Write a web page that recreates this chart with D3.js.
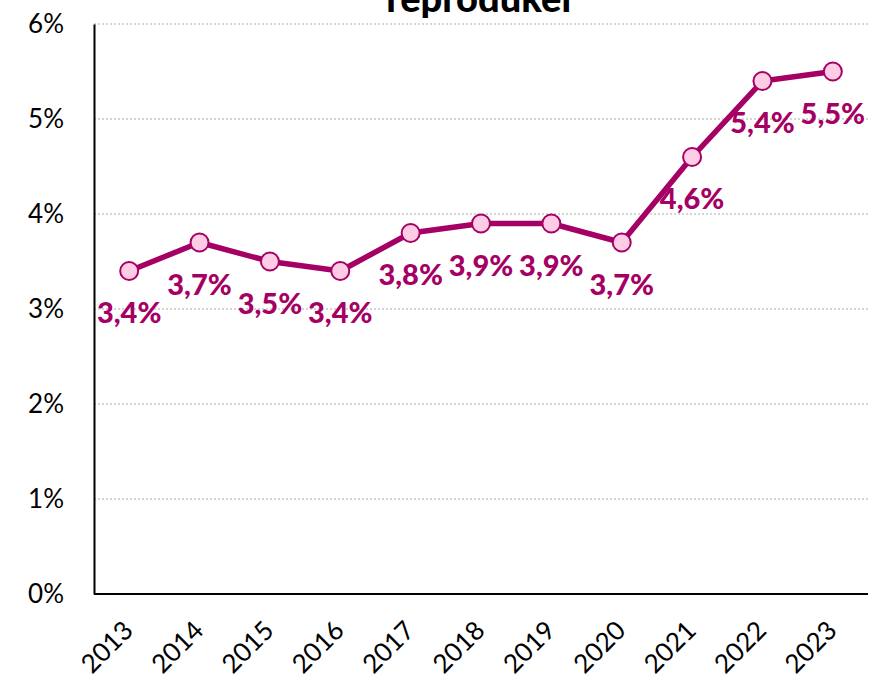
<!DOCTYPE html>
<html>
<head>
<meta charset="utf-8">
<script src="https://cdn.jsdelivr.net/npm/d3@7"></script>
<style>
  body { margin: 0; background: #fff; }
  svg { display: block; font-family: Lato, "Open Sans", sans-serif; }
</style>
</head>
<body>
<div id="chart"></div>
<script>
var years = ["2013", "2014", "2015", "2016", "2017", "2018", "2019", "2020", "2021", "2022", "2023"];
var shares = [3.4, 3.7, 3.5, 3.4, 3.8, 3.9, 3.9, 3.7, 4.6, 5.4, 5.5];
var yTicks = [0, 1, 2, 3, 4, 5, 6];
var title = "reproduker";

var width = 872;
var height = 680;
var margin = { top: 24, right: 4, bottom: 86, left: 94 };
var lineColor = "#a50064";
var dotFill = "#ffcce6";

var svg = d3.select("#chart")
    .append("svg")
    .attr("width", width)
    .attr("height", height);

var x = d3.scalePoint()
    .domain(years)
    .range([margin.left, width - margin.right])
    .padding(0.5);

var y = d3.scaleLinear()
    .domain([0, 6])
    .range([height - margin.bottom, margin.top]);

// gridlines
svg.append("g")
    .selectAll("line")
    .data(yTicks.filter(d => d > 0))
    .enter().append("line")
    .attr("x1", margin.left)
    .attr("x2", width - margin.right)
    .attr("y1", d => y(d))
    .attr("y2", d => y(d))
    .attr("stroke", "#c8c8c8")
    .attr("stroke-width", 1.5)
    .attr("stroke-dasharray", "2,2");

// y axis
var yAxis = svg.append("g")
    .attr("transform", "translate(" + margin.left + ",0)")
    .call(d3.axisLeft(y).tickValues(yTicks).tickSize(0).tickPadding(30)
        .tickFormat(d => d + "%"));
yAxis.select(".domain").attr("stroke", "#000").attr("stroke-width", 2);
yAxis.selectAll("text")
    .attr("font-size", 26)
    .attr("fill", "#000")
    .attr("font-family", "Lato, sans-serif");

// x axis
var xAxis = svg.append("g")
    .attr("transform", "translate(0," + y(0) + ")")
    .call(d3.axisBottom(x).tickSize(0).tickPadding(0));
xAxis.select(".domain")
    .attr("d", "M" + margin.left + ",0H" + (width - margin.right))
    .attr("stroke", "#000").attr("stroke-width", 2);
xAxis.selectAll("text")
    .attr("font-size", 26)
    .attr("fill", "#000")
    .attr("font-family", "Lato, sans-serif")
    .attr("text-anchor", "end")
    .attr("dy", null)
    .attr("transform", "translate(5,38) rotate(-45)");

// line
var line = d3.line()
    .x((d, i) => x(years[i]))
    .y(d => y(d));

svg.append("path")
    .datum(shares)
    .attr("d", line)
    .attr("fill", "none")
    .attr("stroke", lineColor)
    .attr("stroke-width", 5.5)
    .attr("stroke-linejoin", "round");

svg.append("g")
    .selectAll("circle")
    .data(shares)
    .enter().append("circle")
    .attr("cx", (d, i) => x(years[i]))
    .attr("cy", d => y(d))
    .attr("r", 9)
    .attr("fill", dotFill)
    .attr("stroke", lineColor)
    .attr("stroke-width", 2);

// value labels
svg.append("g")
    .selectAll("text")
    .data(shares)
    .enter().append("text")
    .attr("x", (d, i) => x(years[i]))
    .attr("y", d => y(d) + 42)
    .attr("dy", "0.35em")
    .attr("text-anchor", "middle")
    .attr("font-size", 29)
    .attr("font-weight", 900)
    .attr("fill", lineColor)
    .text(d => d.toFixed(1).replace(".", ",") + "%");

// title (cut off at top, as in the source)
svg.append("text")
    .attr("x", (margin.left + width - margin.right) / 2)
    .attr("y", 12)
    .attr("text-anchor", "middle")
    .attr("font-size", 38)
    .attr("font-weight", 900)
    .attr("fill", "#000")
    .text(title);
</script>
</body>
</html>
